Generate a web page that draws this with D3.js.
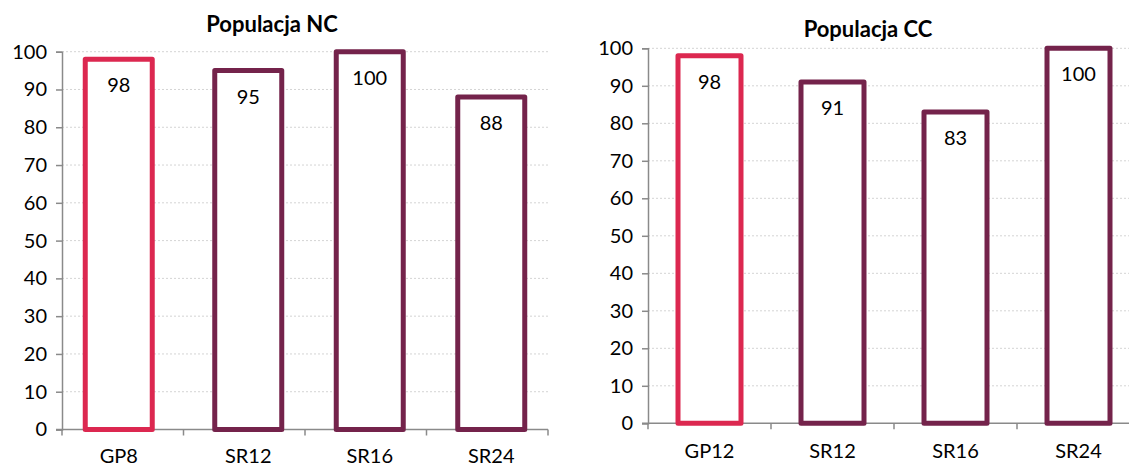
<!DOCTYPE html>
<html>
<head>
<meta charset="utf-8">
<script src="https://cdn.jsdelivr.net/npm/d3@7"></script>
<style>
  html, body { margin: 0; padding: 0; background: #fff; }
  svg { display: block; font-family: Lato, "Open Sans", sans-serif; }
</style>
</head>
<body>
<svg id="chart" width="1129" height="466"></svg>
<script>
// ---- data ----
const leftTitle = "Populacja NC";
const leftCategories = ["GP8", "SR12", "SR16", "SR24"];
const leftGP = [98, null, null, null];
const leftSR = [null, 95, 100, 88];

const rightTitle = "Populacja CC";
const rightCategories = ["GP12", "SR12", "SR16", "SR24"];
const rightGP = [98, null, null, null];
const rightSR = [null, 91, 83, 100];

const yTicks = [0, 10, 20, 30, 40, 50, 60, 70, 80, 90, 100];
const seriesKeys = ["GP", "SR"];

// ---- styles ----
const colors = { GP: "#DC2850", SR: "#74234B" };
const axisColor = "#8a8a8a";
const gridColor = "#d4d4d4";

const svg = d3.select("#chart");

function drawChart(cfg) {
  const g = svg.append("g");
  const x = d3.scaleBand().domain(cfg.categories).range([cfg.x0, cfg.x1]).padding(0);
  const y = d3.scaleLinear().domain([0, 100]).range([cfg.yBottom, cfg.yTop]);
  const offset = d3.scaleOrdinal().domain(seriesKeys).range(cfg.seriesOffsets);

  // title
  g.append("text")
    .attr("x", cfg.titleX).attr("y", cfg.titleY)
    .attr("text-anchor", "middle")
    .attr("font-weight", "bold")
    .attr("font-size", 22)
    .attr("fill", "#000")
    .text(cfg.title);

  // gridlines
  g.append("g").selectAll("line").data(yTicks.filter(t => t > 0)).join("line")
    .attr("x1", cfg.x0).attr("x2", cfg.gridEnd)
    .attr("y1", d => y(d)).attr("y2", d => y(d))
    .attr("stroke", gridColor).attr("stroke-width", 1)
    .attr("stroke-dasharray", "2,2");

  // y axis
  const yAxis = d3.axisLeft(y).tickValues(yTicks).tickSize(6).tickPadding(9).tickFormat(d3.format("d"));
  const ya = g.append("g").attr("transform", `translate(${cfg.x0},0)`).call(yAxis);
  ya.select(".domain").attr("stroke", axisColor).attr("stroke-width", 1.5);
  ya.selectAll(".tick line").attr("stroke", axisColor).attr("stroke-width", 1.5);
  ya.selectAll(".tick text").attr("font-size", 20).attr("fill", "#000").attr("font-family", "Lato, sans-serif");

  // x axis: ticks at category boundaries
  g.append("line")
    .attr("x1", cfg.x0 - 6).attr("x2", cfg.x1)
    .attr("y1", y(0)).attr("y2", y(0))
    .attr("stroke", axisColor).attr("stroke-width", 1.5);
  const bounds = cfg.categories.map(c => x(c)).concat([cfg.x1]);
  g.append("g").selectAll("line").data(bounds).join("line")
    .attr("x1", d => d).attr("x2", d => d)
    .attr("y1", y(0)).attr("y2", y(0) + 6)
    .attr("stroke", axisColor).attr("stroke-width", 1.5);
  g.append("g").selectAll("text").data(cfg.categories).join("text")
    .attr("x", d => x(d) + x.bandwidth() / 2 + cfg.labelShift(d))
    .attr("y", cfg.yBottom + cfg.labelDy)
    .attr("text-anchor", "middle")
    .attr("font-size", 20).attr("fill", "#000")
    .text(d => d);

  // bars
  const bars = [];
  cfg.series.forEach(s => {
    s.values.forEach((v, i) => {
      if (v != null) bars.push({ key: s.key, cat: cfg.categories[i], value: v });
    });
  });
  const bw = cfg.barWidth;
  g.append("g").selectAll("rect").data(bars).join("rect")
    .attr("x", d => x(d.cat) + x.bandwidth() / 2 + offset(d.key) - bw / 2)
    .attr("y", d => y(d.value))
    .attr("width", bw)
    .attr("height", d => y(0) - y(d.value))
    .attr("fill", "#fff")
    .attr("stroke", d => colors[d.key])
    .attr("stroke-width", 5)
    .attr("stroke-linejoin", "round");

  g.append("g").selectAll("text").data(bars).join("text")
    .attr("x", d => x(d.cat) + x.bandwidth() / 2 + offset(d.key))
    .attr("y", d => y(d.value) + 33)
    .attr("text-anchor", "middle")
    .attr("font-size", 20).attr("fill", "#000")
    .text(d => d.value);
}

drawChart({
  title: leftTitle, titleX: 272, titleY: 32,
  categories: leftCategories,
  series: [{ key: "GP", values: leftGP }, { key: "SR", values: leftSR }],
  seriesOffsets: [-4, 4],
  labelShift: d => (leftGP[leftCategories.indexOf(d)] != null ? -4 : 4),
  x0: 62, x1: 548, gridEnd: 548,
  yTop: 51.7, yBottom: 429.5, labelDy: 33,
  barWidth: 67
});

drawChart({
  title: rightTitle, titleX: 868, titleY: 37,
  categories: rightCategories,
  series: [{ key: "GP", values: rightGP }, { key: "SR", values: rightSR }],
  seriesOffsets: [0, 0],
  labelShift: d => 0,
  x0: 648, x1: 1140, gridEnd: 1140,
  yTop: 48.3, yBottom: 423.3, labelDy: 35,
  barWidth: 63
});
</script>
</body>
</html>
